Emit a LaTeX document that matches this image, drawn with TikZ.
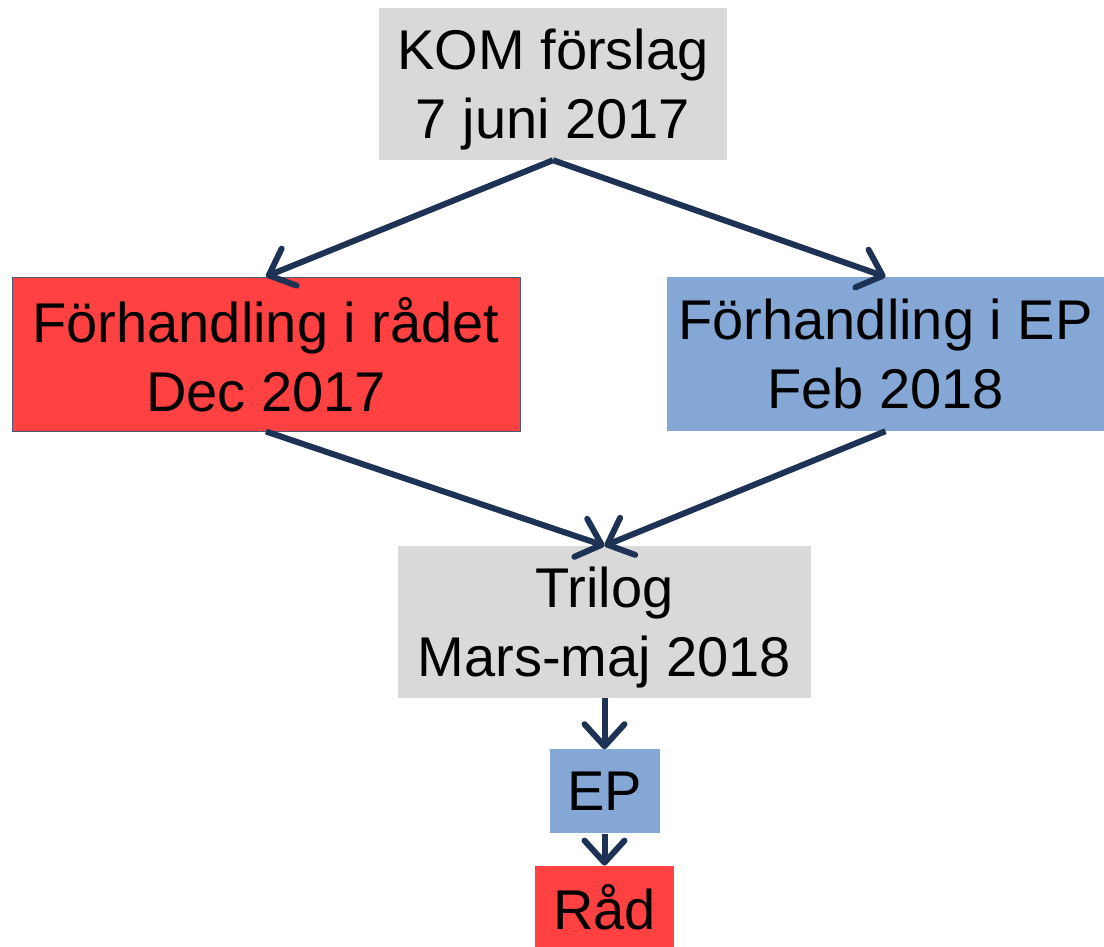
\documentclass[tikz,border=0pt]{standalone}
\usepackage{fontspec}
\setmainfont{Liberation Sans}
\usetikzlibrary{positioning,arrows.meta}
\definecolor{komgray}{RGB}{217,217,217}
\definecolor{raadred}{RGB}{255,65,65}
\definecolor{epblue}{RGB}{132,167,214}
\definecolor{arrownavy}{RGB}{30,50,85}

\begin{document}
\begin{tikzpicture}[
    x=1pt, y=-1pt,
    box/.style={inner sep=0pt, align=center, text depth=0pt, font=\fontsize{56}{69}\selectfont},
    graybox/.style={box, fill=komgray},
    redbox/.style={box, fill=raadred, draw=arrownavy!80, line width=1pt},
    bluebox/.style={box, fill=epblue},
    flow/.style={-{Straight Barb[length=22pt, width=40pt, round]}, draw=arrownavy, line width=6pt}
    ]
        \useasboundingbox (0,0) rectangle (1104,947);

        %Nodes
        \node[graybox, minimum width=348pt, minimum height=152pt]
            (kom)     at (553,84)      {KOM förslag\\7 juni 2017};
        \node[redbox, minimum width=508pt, minimum height=154pt]
            (raadet)  at (266,354)     {Förhandling i rådet\\Dec 2017};
        \node[bluebox, minimum width=437pt, minimum height=154pt]
            (ep)      at (885.5,354)   {Förhandling i EP\\Feb 2018};
        \node[graybox, minimum width=413pt, minimum height=152pt]
            (trilog)  at (604.5,622)   {Trilog\\Mars-maj 2018};
        \node[bluebox, minimum width=110pt, minimum height=84pt]
            (epvote)  [below=51pt of trilog]  {EP};
        \node[redbox, draw=none, minimum width=139pt, minimum height=82pt]
            (raad)    [below=32pt of epvote]  {Råd};

        %Lines
        \draw[flow] (kom.south) -- (raadet.north);
        \draw[flow] (kom.south) -- (ep.north);
        \draw[flow] (raadet.south) -- (trilog.north);
        \draw[flow] (ep.south) -- (trilog.north);
        \draw[flow] (trilog.south) -- (epvote.north);
        \draw[flow] (epvote.south) -- (raad.north);
\end{tikzpicture}
\end{document}
